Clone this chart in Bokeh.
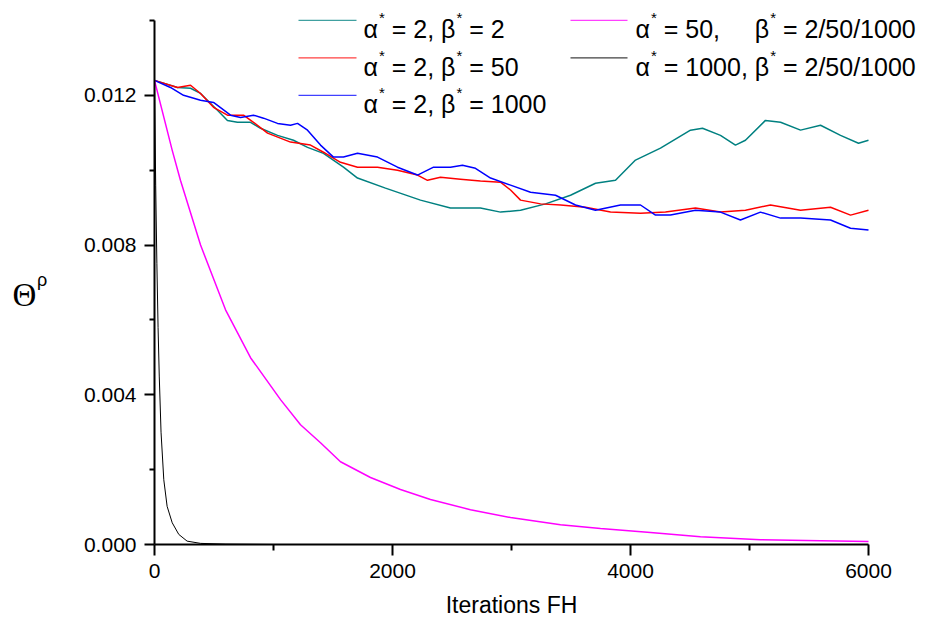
from bokeh.plotting import figure
from bokeh.layouts import row
from bokeh.models import Range1d, FixedTicker, PrintfTickFormatter, Label, Title
from bokeh.core.properties import value
from bokeh.embed import file_html
from bokeh.resources import INLINE

# ---- data: iterations (FH) and Theta^rho for each run ----
teal_x = [0, 193, 303, 387, 529, 613, 697, 807, 891, 1034, 1168, 1286, 1420, 1588, 1706,
          1941, 2235, 2487, 2739, 2908, 3076, 3286, 3496, 3706, 3874, 4042, 4252, 4504,
          4605, 4756, 4882, 4966, 5134, 5261, 5429, 5597, 5765, 5916, 6000]
teal_y = [0.0124, 0.01221, 0.01219, 0.01205, 0.0116, 0.01133, 0.01128, 0.01128, 0.01112,
          0.01093, 0.0108, 0.01061, 0.01045, 0.01008, 0.00979, 0.00952, 0.0092, 0.00899,
          0.00899, 0.00888, 0.00893, 0.0091, 0.00933, 0.00965, 0.00973, 0.01027, 0.01059,
          0.01107, 0.01112, 0.01093, 0.01067, 0.0108, 0.01133, 0.01128, 0.01107, 0.0112,
          0.01093, 0.01072, 0.0108]

red_x = [0, 193, 303, 387, 496, 613, 748, 832, 950, 1143, 1311, 1420, 1563, 1706, 1874,
         2042, 2210, 2294, 2403, 2571, 2739, 2908, 2992, 3076, 3244, 3412, 3622, 3832,
         4084, 4294, 4546, 4756, 4966, 5176, 5429, 5681, 5849, 6000]
red_y = [0.0124, 0.01221, 0.01227, 0.01205, 0.01168, 0.01147, 0.01147, 0.01128, 0.01099,
         0.01075, 0.01067, 0.01048, 0.01021, 0.01008, 0.01008, 0.0100, 0.00987, 0.00973,
         0.00981, 0.00976, 0.00971, 0.00968, 0.00947, 0.0092, 0.0091, 0.00907, 0.00901,
         0.00888, 0.00885, 0.00888, 0.00899, 0.00888, 0.00893, 0.00907, 0.00893, 0.00901,
         0.0088, 0.00893]

blue_x = [0, 134, 244, 387, 496, 639, 723, 832, 916, 1034, 1143, 1202, 1286, 1395, 1504,
          1588, 1706, 1874, 2042, 2210, 2345, 2487, 2588, 2697, 2824, 2992, 3160, 3370,
          3538, 3706, 3916, 4084, 4210, 4336, 4546, 4756, 4924, 5092, 5261, 5429, 5681,
          5849, 6000]
blue_y = [0.0124, 0.01221, 0.012, 0.01187, 0.01181, 0.01147, 0.01141, 0.01147, 0.01139,
          0.01125, 0.0112, 0.01125, 0.01107, 0.01067, 0.01035, 0.01035, 0.01045, 0.01035,
          0.01008, 0.00987, 0.01008, 0.01008, 0.01013, 0.01005, 0.00979, 0.0096, 0.00941,
          0.00933, 0.00907, 0.00893, 0.00907, 0.00907, 0.0088, 0.0088, 0.00893, 0.00888,
          0.00867, 0.00888, 0.00872, 0.00872, 0.00867, 0.00845, 0.0084]

magenta_x = [0, 149, 218, 387, 597, 807, 1059, 1227, 1395, 1563, 1815, 2067, 2319, 2655,
             2992, 3412, 3748, 4168, 4588, 5092, 5597, 6000]
magenta_y = [0.0124, 0.01053, 0.00973, 0.0080, 0.00627, 0.00499, 0.00387, 0.0032, 0.00272,
             0.00221, 0.00179, 0.00147, 0.0012, 0.00093, 0.00072, 0.00053, 0.00043,
             0.00032, 0.00021, 0.00013, 0.0001, 0.00008]

black_x = [0, 10, 20, 30, 40, 55, 78, 106, 149, 204, 274, 387, 600, 1000, 2000, 3000,
           4000, 5000, 6000]
black_y = [0.0124, 0.0096, 0.0075, 0.0058, 0.0045, 0.0030, 0.00173, 0.00102, 0.00058,
           0.00027, 0.00009, 0.00003, 0.00001, 0.0, 0.0, 0.0, 0.0, 0.0, 0.0]

labels = ["α* = 2, β* = 2", "α* = 2, β* = 50", "α* = 2, β* = 1000",
          "α* = 50, β* = 2/50/1000", "α* = 1000, β* = 2/50/1000"]
colors = ["#008080", "#ff0000", "#0000ff", "#ff00ff", "#000000"]
widths = [1.5, 1.5, 1.5, 1.5, 1.0]

x_ticks = [0, 2000, 4000, 6000]
x_minor = [1000, 3000, 5000]
y_ticks = [0.0, 0.004, 0.008, 0.012]
y_minor = [0.002, 0.006, 0.010, 0.014]

# ---- page geometry (pixels) ----
W, H = 925, 626
SIDE_W = 60                 # strip holding the y-axis title
LEFT, RIGHT, BOTTOM = 154, 868, 545
Y_PER_PX = 0.004 / 150
X_PER_PX = 6000 / (RIGHT - LEFT)
Y_TOP = BOTTOM * Y_PER_PX
X_END = (W - LEFT) * X_PER_PX


def dx(px):
    return (px - LEFT) * X_PER_PX


def dy(py):
    return (BOTTOM - py) * Y_PER_PX


SANS = "Liberation Sans"

# ---- y-axis title strip: Theta with superscript rho ----
side = figure(width=SIDE_W, height=H, x_range=Range1d(0, SIDE_W), y_range=Range1d(BOTTOM, 0),
              output_backend="svg", toolbar_location=None, title=None,
              x_axis_type=None, y_axis_type=None,
              min_border_left=0, min_border_right=0, min_border_top=0,
              min_border_bottom=H - BOTTOM)
side.grid.visible = False
side.outline_line_color = None
side.background_fill_color = "white"
side.border_fill_color = "white"
side.text(x=[12], y=[295], text=["Θ"], text_font=value("Liberation Serif"),
          text_font_size="33px", text_color="black", text_baseline="alphabetic")
side.text(x=[36.5], y=[280.5], text=["ρ"], text_font=value(SANS),
          text_font_size="18px", text_color="black", text_baseline="alphabetic")

# ---- main plot ----
p = figure(width=W - SIDE_W, height=H, x_range=Range1d(0, X_END), y_range=Range1d(0, Y_TOP),
           output_backend="svg", toolbar_location=None, title=None,
           min_border_left=LEFT - SIDE_W, min_border_right=0,
           min_border_top=0, min_border_bottom=H - BOTTOM)
p.grid.visible = False
p.outline_line_color = None
p.background_fill_color = "white"
p.border_fill_color = "white"

for ax in (p.xaxis[0], p.yaxis[0]):
    ax.axis_line_width = 2
    ax.axis_line_color = "black"
    ax.major_tick_line_width = 2
    ax.minor_tick_line_width = 2
    ax.major_tick_line_color = "black"
    ax.minor_tick_line_color = "black"
    ax.major_tick_in = 0
    ax.minor_tick_in = 0
    ax.major_label_text_font = SANS
    ax.major_label_text_font_size = "21px"
    ax.major_label_text_color = "black"

p.xaxis.ticker = FixedTicker(ticks=x_ticks, minor_ticks=x_minor)
p.xaxis.bounds = (0, 6000)
p.xaxis.major_tick_out = 11
p.xaxis.minor_tick_out = 6
p.xaxis.major_label_standoff = 8

# x-axis title, centred under the 0..6000 axis rather than the whole frame
XT_FS = 23
XT_TEXT = "Iterations FH"
xt_width = 5.724 * XT_FS
p.add_layout(Title(text=XT_TEXT, align="left",
                   offset=(LEFT + RIGHT) / 2 - xt_width / 2 - LEFT,
                   text_font=SANS, text_font_size=f"{XT_FS}px", text_font_style="normal",
                   text_color="black", standoff=18), "below")

p.yaxis.ticker = FixedTicker(ticks=y_ticks, minor_ticks=y_minor)
p.yaxis.formatter = PrintfTickFormatter(format="%.3f")
p.yaxis.bounds = (0, 0.014)
p.yaxis.major_tick_out = 10
p.yaxis.minor_tick_out = 5
p.yaxis.major_label_standoff = 8

series = [(teal_x, teal_y), (red_x, red_y), (blue_x, blue_y),
          (magenta_x, magenta_y), (black_x, black_y)]
for (xs, ys), c, w in zip(series, colors, widths):
    p.line(xs, ys, line_color=c, line_width=w)

# ---- legend: two columns, superscript asterisks ----
ADV = {c: 0.556 for c in "0123456789"}
ADV.update({" ": 0.278, "=": 0.584, ",": 0.278, "/": 0.278, "α": 0.578, "β": 0.576, "*": 0.389})
FS, SUP = 25, 15


def tw(s, size):
    return sum(ADV.get(ch, 0.556) for ch in s) * size


def put(px, base, text, size, dyup=0):
    # leading blanks would be collapsed in SVG, so turn them into an x shift
    stripped = text.lstrip(" ")
    px += tw(text[:len(text) - len(stripped)], size)
    p.add_layout(Label(x=dx(px), y=dy(base - dyup), text=stripped, text_font=SANS,
                       text_font_size=f"{size}px", text_color="black",
                       text_baseline="alphabetic", text_align="left"))


def piece_width(part):
    sym, rest = part.split("*")
    return tw(sym, FS) + 1 + tw("*", SUP) + tw(rest, FS)


def draw_part(px, base, part):
    sym, rest = part.split("*")
    put(px, base, sym, FS)
    px += tw(sym, FS) + 1
    put(px, base, "*", SUP, dyup=11.5)
    px += tw("*", SUP)
    put(px, base, rest, FS)


columns = [([0, 1, 2], 298, 356, 363), ([3, 4], 570, 627, 635)]
rows_y = [20, 57.5, 95]
for idx, lx0, lx1, tx in columns:
    heads = {}
    for i in idx:
        head, tail = labels[i].split(", ", 1)
        heads[i] = (head + ",", tail)
    beta_x = tx + max(piece_width(h) for h, _ in heads.values()) + tw(" ", FS)
    for r, i in enumerate(idx):
        yc = rows_y[r]
        p.segment(x0=[dx(lx0)], y0=[dy(yc)], x1=[dx(lx1)], y1=[dy(yc)],
                  line_color=colors[i], line_width=1.2, line_alpha=0.75)
        base = yc + 9
        head, tail = heads[i]
        draw_part(tx, base, head)
        draw_part(beta_x, base, tail)

layout = row(side, p, spacing=0)
open("out.html", "w").write(file_html(layout, INLINE))
